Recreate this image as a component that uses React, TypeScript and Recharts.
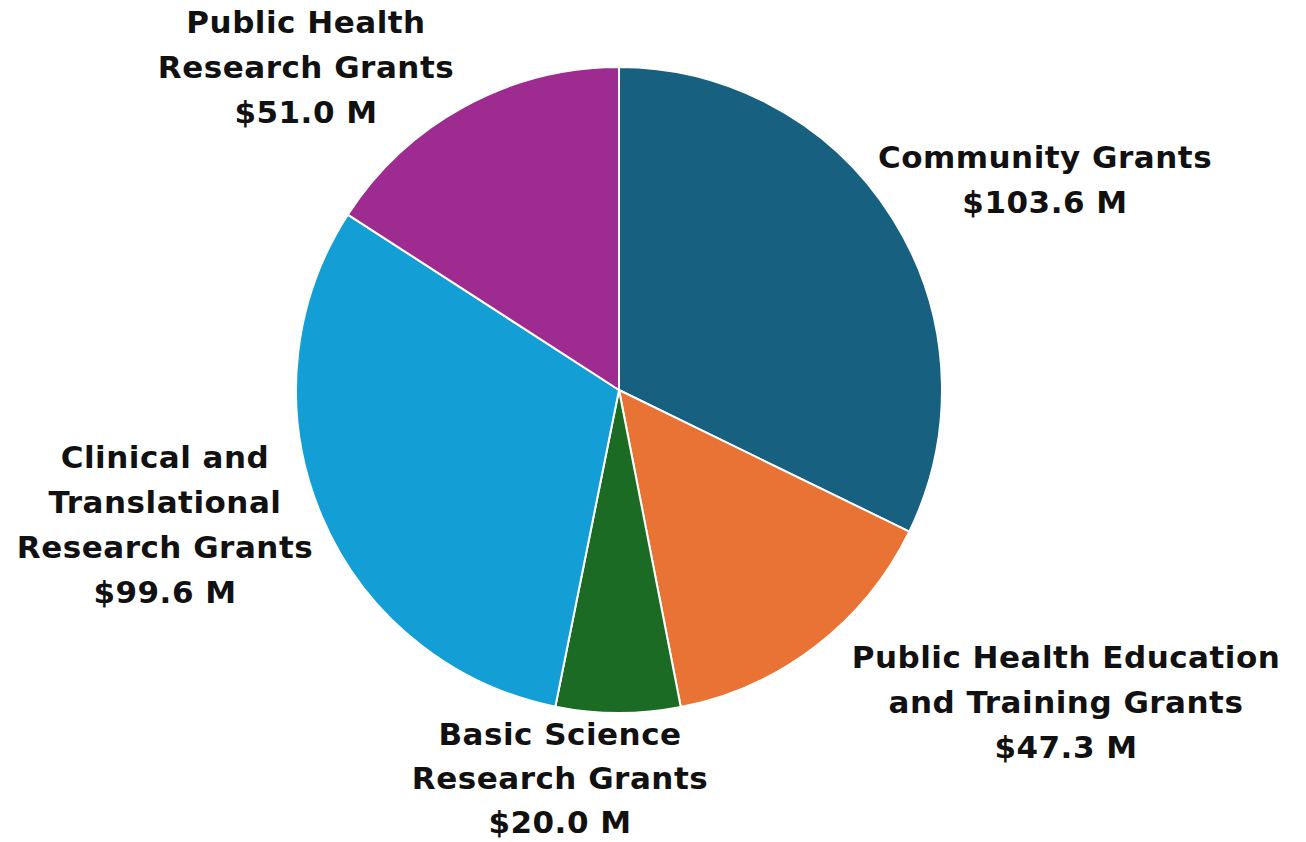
import React from "react";
import { PieChart, Pie, Cell } from "recharts";

const categories = [
  "Community Grants",
  "Public Health Education and Training Grants",
  "Basic Science Research Grants",
  "Clinical and Translational Research Grants",
  "Public Health Research Grants",
];
const values = [103.6, 47.3, 20.0, 99.6, 51.0];
const labelLines = [
  ["Community Grants"],
  ["Public Health Education", "and Training Grants"],
  ["Basic Science", "Research Grants"],
  ["Clinical and", "Translational", "Research Grants"],
  ["Public Health", "Research Grants"],
];
const colors = ["#18607f", "#e87334", "#1c6b25", "#139fd6", "#9d2b90"];

// label block offsets (first line baseline) relative to pie centre
const labelOffsets = [
  [426, -222],
  [447, 278],
  [-59, 355],
  [-454, 78],
  [-313, -357],
];

const data = categories.map((name, i) => ({ name, value: values[i] }));

const CX = 619;
const CY = 390;
const LINE_H = 45;

const renderLabel = (props: any) => {
  const { index, value } = props;
  const cx = props.cx ?? CX;
  const cy = props.cy ?? CY;
  const [dx, dy] = labelOffsets[index];
  const lines = [...labelLines[index], `$${Number(value).toFixed(1)} M`];
  const lh = index === 2 ? 44 : LINE_H;
  return (
    <text
      x={cx + dx}
      y={cy + dy}
      textAnchor="middle"
      fill="#111"
      style={{ fontFamily: "'DejaVu Sans', sans-serif", fontWeight: 700, fontSize: 31, letterSpacing: 0.5 }}
    >
      {lines.map((l, k) => (
        <tspan key={k} x={cx + dx} y={cy + dy + k * lh}>
          {l}
        </tspan>
      ))}
    </text>
  );
};

export default function App() {
  return (
    <div style={{ position: "fixed", top: 0, left: 0, width: 1306, height: 842, background: "#fff" }}>
      <PieChart
        width={1306}
        height={842}
        margin={{ top: 0, right: 0, bottom: 0, left: 0 }}
        style={{ overflow: "visible" }}
      >
        <Pie
          data={data}
          dataKey="value"
          nameKey="name"
          cx={CX}
          cy={CY}
          outerRadius={323}
          startAngle={90}
          endAngle={-270}
          stroke="#ffffff"
          strokeWidth={2}
          label={renderLabel}
          labelLine={false}
          isAnimationActive={false}
        >
          {data.map((d, i) => (
            <Cell key={d.name} fill={colors[i]} />
          ))}
        </Pie>
      </PieChart>
    </div>
  );
}
